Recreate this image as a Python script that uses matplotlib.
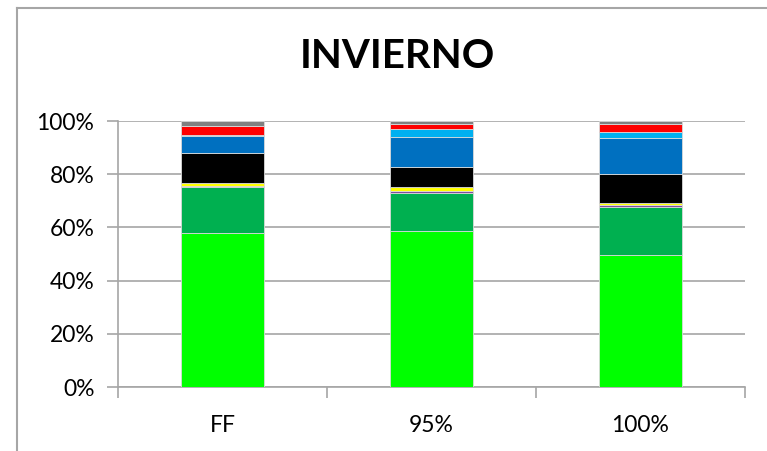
import numpy as np
import matplotlib
matplotlib.use("Agg")
import matplotlib.pyplot as plt
from matplotlib.lines import Line2D

categories = ["FF", "95%", "100%"]
# stacked shares in %, bottom to top
lime = [57.8, 58.6, 49.6]
dark_green = [17.3, 14.4, 18.1]
purple = [0.6, 0.8, 0.6]
yellow = [1.1, 1.5, 0.7]
black = [11.3, 7.5, 11.2]
blue = [6.1, 11.3, 13.5]
sky_blue = [0.4, 2.9, 2.3]
red = [3.4, 1.7, 2.7]
gray = [2.0, 1.3, 1.3]

series = [
    (lime, "#00FF00"),
    (dark_green, "#00B050"),
    (purple, "#7F4FA0"),
    (yellow, "#FFFF00"),
    (black, "#000000"),
    (blue, "#0070C0"),
    (sky_blue, "#00B0F0"),
    (red, "#FF0000"),
    (gray, "#808080"),
]

plt.rcParams["font.family"] = ["Lato", "DejaVu Sans"]

W, H = 767, 451
fig = plt.figure(figsize=(W / 100, H / 100), dpi=100)
ax = fig.add_axes([118 / W, 1 - 387 / H, (745 - 118) / W, (387 - 121) / H])

x = np.arange(len(categories))
bottom = np.zeros(len(categories))
for vals, col in series:
    ax.bar(x, vals, width=0.4, bottom=bottom, color=col,
           edgecolor="#D9D9D9", linewidth=0.6, zorder=3)
    bottom += np.array(vals)

ax.set_xlim(-0.5, 2.5)
ax.set_ylim(0, 100)
ax.set_yticks(np.arange(0, 101, 20))
ax.set_yticklabels([f"{v}%" for v in range(0, 101, 20)], fontsize=16.5)
ax.grid(axis="y", color="#A6A6A6", linewidth=1.2, zorder=0)
for s in ["top", "right"]:
    ax.spines[s].set_visible(False)
for s in ["left", "bottom"]:
    ax.spines[s].set_color("#A6A6A6")
    ax.spines[s].set_linewidth(1.2)
ax.tick_params(axis="y", length=8, color="#A6A6A6", width=1.2, pad=9)
ax.set_xticks(x)
ax.set_xticklabels(categories, fontsize=16.5)
ax.tick_params(axis="x", length=0, pad=20)
ax.set_xticks([-0.5, 0.5, 1.5, 2.5], minor=True)
ax.tick_params(axis="x", which="minor", length=8, color="#A6A6A6", width=1.2)

fig.text(397 / W, 1 - 57 / H, "INVIERNO", ha="center", va="center",
         fontsize=29, fontweight="bold")

# outer chart border
fig.add_artist(Line2D([17 / W, 17 / W], [0, 1 - 8 / H], transform=fig.transFigure,
                      color="#A6A6A6", linewidth=1.5))
fig.add_artist(Line2D([17 / W, 1], [1 - 8 / H, 1 - 8 / H], transform=fig.transFigure,
                      color="#A6A6A6", linewidth=1.5))

fig.savefig("out.png", dpi=100)
